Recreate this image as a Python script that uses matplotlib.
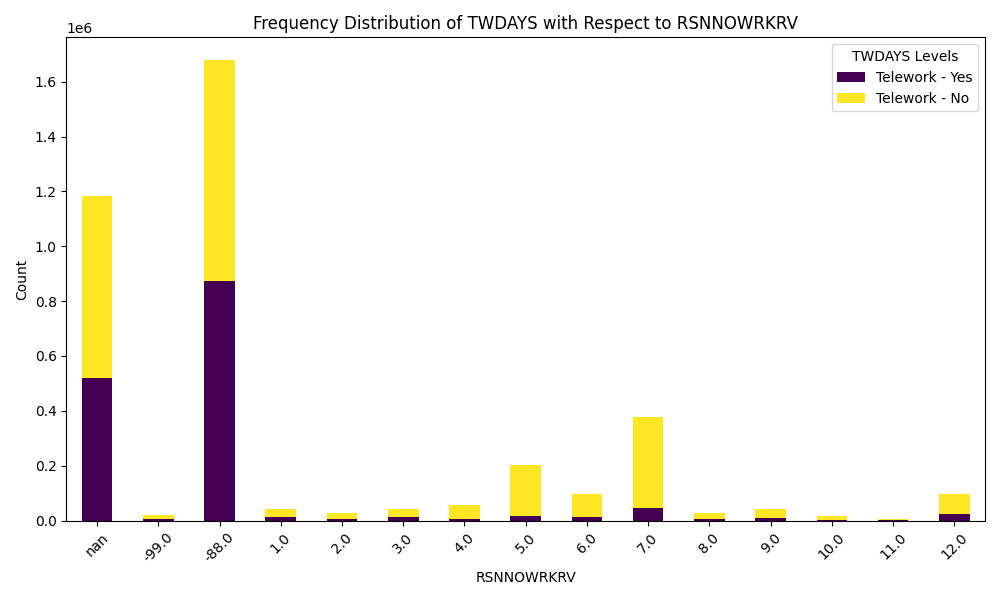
import pandas as pd
import matplotlib
matplotlib.use('Agg')
import matplotlib.pyplot as plt

# categories of RSNNOWRKRV
categories = ['nan', '-99.0', '-88.0', '1.0', '2.0', '3.0', '4.0', '5.0',
              '6.0', '7.0', '8.0', '9.0', '10.0', '11.0', '12.0']

# counts
telework_yes = [520000, 6000, 873000, 13000, 6000, 13000, 6000, 17000,
                13000, 44000, 6000, 10000, 3000, 3000, 24000]
telework_no = [663000, 15000, 805000, 30000, 22000, 30000, 51000, 186000,
               84000, 334000, 22000, 33000, 14000, 1000, 73000]

df = pd.DataFrame({'Telework - Yes': telework_yes,
                   'Telework - No': telework_no}, index=categories)

fig, ax = plt.subplots(figsize=(10, 6))
df.plot(kind='bar', stacked=True, colormap='viridis', ax=ax)
ax.set_title('Frequency Distribution of TWDAYS with Respect to RSNNOWRKRV')
ax.set_xlabel('RSNNOWRKRV')
ax.set_ylabel('Count')
ax.legend(title='TWDAYS Levels')
plt.xticks(rotation=45)
plt.tight_layout()
plt.savefig('out.png', dpi=100)
